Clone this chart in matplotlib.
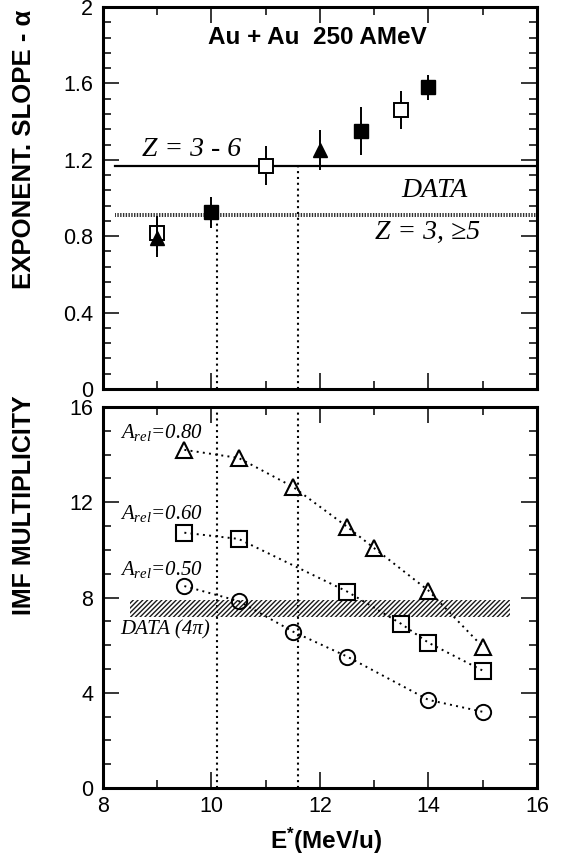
import matplotlib
matplotlib.use("Agg")
import matplotlib.pyplot as plt
from matplotlib.ticker import MultipleLocator

plt.rcParams['font.family'] = ['Liberation Sans', 'DejaVu Sans']
plt.rcParams['mathtext.fontset'] = 'custom'
plt.rcParams['mathtext.rm'] = 'Liberation Sans'
plt.rcParams['mathtext.it'] = 'Liberation Serif:italic'
plt.rcParams['mathtext.bf'] = 'Liberation Sans:bold'
plt.rcParams['hatch.linewidth'] = 1.0

# --- upper panel: exponential slope alpha ---
open_sq_x = [9, 11, 13.5]
open_sq_y = [0.815, 1.17, 1.46]
open_sq_err = [0.09, 0.10, 0.10]

full_sq_x = [10, 12.75, 14]
full_sq_y = [0.925, 1.35, 1.58]
full_sq_err = [0.08, 0.125, 0.065]

full_tri_x = [9, 12]
full_tri_y = [0.79, 1.25]
full_tri_err = [0.10, 0.105]

data_z36 = 1.17       # Z = 3 - 6
data_z35 = 0.91       # Z = 3, >=5
data_line_x = [8.23, 16]

vlines_x = [10.1, 11.6]
vlines_top = [0.91, 1.17]

# --- lower panel: IMF multiplicity ---
e_080 = [9.5, 10.5, 11.5, 12.5, 13, 14, 15]
m_080 = [14.2, 13.86, 12.65, 10.97, 10.07, 8.29, 5.93]
e_060 = [9.5, 10.5, 12.5, 13.5, 14, 15]
m_060 = [10.72, 10.46, 8.25, 6.89, 6.1, 4.93]
e_050 = [9.5, 10.5, 11.5, 12.5, 14, 15]
m_050 = [8.48, 7.85, 6.57, 5.52, 3.7, 3.2]

band_x = [8.5, 15.5]
band_lo = 7.2
band_hi = 7.9

fig = plt.figure(figsize=(5.61, 8.57), dpi=100)
ax1 = fig.add_axes([0.1836, 0.5461, 0.7736, 0.4457])
ax2 = fig.add_axes([0.1836, 0.0805, 0.7736, 0.4446])

serif = dict(family='Liberation Serif', style='italic')

# upper panel
ax1.axhline(data_z36, xmin=(data_line_x[0] - 8) / 8, xmax=1, color='k', lw=1.6, zorder=2)
ax1.fill_between(data_line_x, data_z35 - 0.009, data_z35 + 0.009, facecolor='none',
                 edgecolor='0.2', hatch='||||||', lw=0, zorder=2)
for vx, vt in zip(vlines_x, vlines_top):
    ax1.plot([vx, vx], [0, vt], color='k', lw=1.5, ls=(0, (1, 1.8)), zorder=2)

ax1.errorbar(open_sq_x, open_sq_y, yerr=open_sq_err, fmt='s', ms=10, mfc='white', mec='k',
             mew=1.4, ecolor='k', elinewidth=1.4, capsize=0, zorder=4)
ax1.errorbar(full_tri_x, full_tri_y, yerr=full_tri_err, fmt='^', ms=10, mfc='k', mec='k',
             ecolor='k', elinewidth=1.4, capsize=0, zorder=5)
ax1.errorbar(full_sq_x, full_sq_y, yerr=full_sq_err, fmt='s', ms=10, mfc='k', mec='k',
             ecolor='k', elinewidth=1.4, capsize=0, zorder=4)

ax1.text(11.96, 1.84, 'Au + Au  250 AMeV', ha='center', va='center', fontsize=17.5,
         fontweight='bold')
ax1.text(8.71, 1.22, 'Z = 3 - 6', ha='left', va='baseline', fontsize=20, **serif)
ax1.text(13.5, 1.003, 'DATA', ha='left', va='baseline', fontsize=20, **serif)
ax1.text(13.01, 0.786, 'Z = 3, \u22655', ha='left', va='baseline', fontsize=20, **serif)

ax1.set_xlim(8, 16)
ax1.set_ylim(0, 2)
ax1.yaxis.set_major_locator(MultipleLocator(0.4))
ax1.yaxis.set_minor_locator(MultipleLocator(0.08))
ax1.set_yticks([0, 0.4, 0.8, 1.2, 1.6, 2])
ax1.set_yticklabels(['0', '0.4', '0.8', '1.2', '1.6', '2'])
ax1.tick_params(labelbottom=False)

# lower panel
for vx in vlines_x:
    ax2.plot([vx, vx], [0, 16], color='k', lw=1.5, ls=(0, (1, 1.8)), zorder=2)
ax2.fill_between(band_x, band_lo, band_hi, facecolor='none', edgecolor='0.1',
                 hatch='///////', lw=0, zorder=2)

dot = (0, (1, 2.2))
ax2.plot(e_080, m_080, color='k', lw=1.4, ls=dot, zorder=3)
ax2.plot(e_060, m_060, color='k', lw=1.4, ls=dot, zorder=3)
ax2.plot(e_050, m_050, color='k', lw=1.4, ls=dot, zorder=3)
ax2.plot(e_080, m_080, ls='none', marker='^', ms=12, mfc='none', mec='k', mew=1.5, zorder=4)
ax2.plot(e_060, m_060, ls='none', marker='s', ms=11, mfc='none', mec='k', mew=1.5, zorder=4)
ax2.plot(e_050, m_050, ls='none', marker='o', ms=11, mfc='none', mec='k', mew=1.4, zorder=4)

ax2.text(8.31, 14.7, r'$A_{rel}$=0.80', ha='left', va='baseline', fontsize=15, **serif)
ax2.text(8.31, 11.3, r'$A_{rel}$=0.60', ha='left', va='baseline', fontsize=15, **serif)
ax2.text(8.31, 8.95, r'$A_{rel}$=0.50', ha='left', va='baseline', fontsize=15, **serif)
ax2.text(8.31, 6.43, 'DATA (4\u03c0)', ha='left', va='baseline', fontsize=15, **serif)

ax2.set_xlim(8, 16)
ax2.set_ylim(0, 16)
ax2.yaxis.set_major_locator(MultipleLocator(4))
ax2.yaxis.set_minor_locator(MultipleLocator(1))

for ax in (ax1, ax2):
    ax.xaxis.set_major_locator(MultipleLocator(2))
    ax.xaxis.set_minor_locator(MultipleLocator(1))
    ax.tick_params(which='both', direction='in', top=True, right=True, width=1.1,
                   labelsize=15.5)
    ax.tick_params(which='major', length=11.5)
    ax.tick_params(which='minor', length=5.8)
    ax.tick_params(axis='y', pad=7)
    ax.tick_params(axis='x', pad=6)
    for s in ax.spines.values():
        s.set_linewidth(2.2)

fig.text(0.0428, 0.9883, 'EXPONENT. SLOPE - \u03b1', rotation=90, ha='center', va='top',
         fontsize=18.5, fontweight='bold')
fig.text(0.0428, 0.539, 'IMF MULTIPLICITY', rotation=90, ha='center', va='top',
         fontsize=18, fontweight='bold')
fig.text(0.581, 0.0187, r'$\mathbf{E^{*}}$(MeV/u)', ha='center', va='center',
         fontsize=17.5, fontweight='bold')

fig.savefig('out.png', dpi=100)
